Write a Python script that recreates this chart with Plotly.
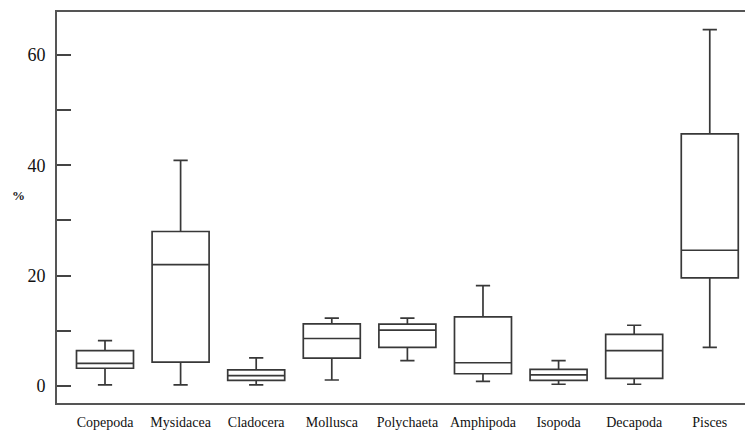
import plotly.graph_objects as go

categories = ["Copepoda", "Mysidacea", "Cladocera", "Mollusca", "Polychaeta",
              "Amphipoda", "Isopoda", "Decapoda", "Pisces"]
lower_whisker = [0.2, 0.2, 0.2, 1.07, 4.6, 0.83, 0.3, 0.3, 7.0]
q1_vals = [3.2, 4.3, 1.0, 5.05, 7.0, 2.2, 1.0, 1.35, 19.6]
median_vals = [4.1, 22.0, 1.85, 8.6, 10.1, 4.2, 2.0, 6.4, 24.6]
q3_vals = [6.4, 28.0, 2.9, 11.25, 11.2, 12.5, 3.0, 9.35, 45.7]
upper_whisker = [8.2, 40.9, 5.1, 12.3, 12.3, 18.2, 4.6, 11.0, 64.6]

y_tick_vals = [0, 10, 20, 30, 40, 50, 60]
y_tick_text = ["0", "", "20", "", "40", "", "60"]

line_col = "#383838"
font_family = "Liberation Serif"

fig = go.Figure()
fig.add_trace(go.Box(
    x=list(range(len(categories))),
    q1=q1_vals, median=median_vals, q3=q3_vals,
    lowerfence=lower_whisker, upperfence=upper_whisker,
    width=0.754, whiskerwidth=0.25,
    line=dict(color=line_col, width=1.7),
    fillcolor="rgba(255,255,255,0)",
    boxpoints=False, showlegend=False, hoverinfo="skip",
))

fig.update_layout(
    width=745, height=430,
    margin=dict(l=57, r=0, t=12, b=22),
    paper_bgcolor="white", plot_bgcolor="white",
    font=dict(family=font_family, color="#111"),
    xaxis=dict(
        range=[-0.635, 8.466],
        tickmode="array", tickvals=list(range(len(categories))), ticktext=categories,
        tickfont=dict(size=14, family=font_family, color="#111"),
        showgrid=False, zeroline=False,
        showline=True, mirror=True, linecolor="#555", linewidth=2,
        ticks="", ticklabelstandoff=5,
    ),
    yaxis=dict(
        range=[-3.1, 67.8],
        tickmode="array", tickvals=y_tick_vals, ticktext=y_tick_text,
        tickfont=dict(size=18, family=font_family, color="#111"),
        showgrid=False, zeroline=False,
        showline=True, linecolor="#555", linewidth=2,
        ticks="inside", ticklen=14, tickwidth=1.5, tickcolor="#444",
        ticklabelstandoff=6,
    ),
    annotations=[dict(
        text="<b>%</b>", xref="paper", yref="paper", x=-0.056, y=0.53,
        xanchor="center", yanchor="middle", showarrow=False,
        font=dict(size=13, family=font_family, color="#222"),
    )],
)

fig.write_html("out.html")
